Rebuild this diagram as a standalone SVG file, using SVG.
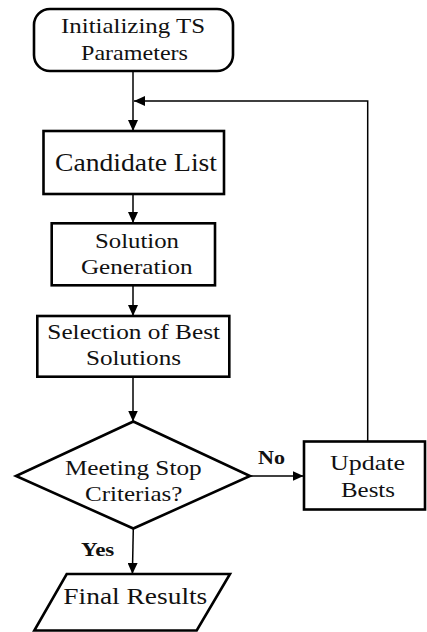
<svg xmlns="http://www.w3.org/2000/svg" width="427" height="632" viewBox="0 0 427 632">
  <style>
    .shape { fill: #ffffff; stroke: #000000; stroke-width: 2.6; stroke-linejoin: miter; }
    text { font-family: "Liberation Serif", "Times New Roman", serif; fill: #111111; text-anchor: middle; }
    .label { font-size: 22px; }
    .big { font-size: 25px; }
    .tag { font-size: 18px; font-weight: bold; }
    .edge { fill: none; stroke: #000000; stroke-width: 1.5; }
  </style>
  <defs>
    <marker id="arrow" markerUnits="userSpaceOnUse" markerWidth="12" markerHeight="10" refX="11" refY="5" orient="auto">
      <path d="M0,0 L11,5 L0,10 Z" fill="#000000"/>
    </marker>
  </defs>

  <rect width="427" height="632" fill="#ffffff"/>

  <g id="connectors">
    <line class="edge" x1="133" y1="71" x2="133" y2="131" marker-end="url(#arrow)"/>
    <polyline class="edge" points="367.7,441 367.7,101 134,101" marker-end="url(#arrow)"/>
    <line class="edge" x1="133" y1="194" x2="133" y2="223" marker-end="url(#arrow)"/>
    <line class="edge" x1="133" y1="285.5" x2="133" y2="316" marker-end="url(#arrow)"/>
    <line class="edge" x1="133" y1="377" x2="133" y2="421.5" marker-end="url(#arrow)"/>
    <line class="edge" x1="250" y1="476" x2="303.5" y2="476" marker-end="url(#arrow)"/>
    <line class="edge" x1="133.3" y1="528.5" x2="132.4" y2="574" marker-end="url(#arrow)"/>
  </g>

  <g id="init">
    <rect class="shape" x="34" y="9" width="199" height="62" rx="16" ry="16"/>
    <text class="label" x="133" y="33.3" textLength="144" lengthAdjust="spacingAndGlyphs">Initializing TS</text>
    <text class="label" x="134.5" y="60" textLength="107" lengthAdjust="spacingAndGlyphs">Parameters</text>
  </g>

  <g id="candidate">
    <rect class="shape" x="43.5" y="131" width="180.5" height="63"/>
    <text class="label big" x="136" y="170.7" textLength="162" lengthAdjust="spacingAndGlyphs">Candidate List</text>
  </g>

  <g id="generation">
    <rect class="shape" x="51.7" y="223.3" width="163.3" height="62"/>
    <text class="label" x="137" y="248.3" textLength="84" lengthAdjust="spacingAndGlyphs">Solution</text>
    <text class="label" x="136.8" y="274" textLength="111.7" lengthAdjust="spacingAndGlyphs">Generation</text>
  </g>

  <g id="selection">
    <rect class="shape" x="37.3" y="316" width="192" height="60.7"/>
    <text class="label" x="133.7" y="339.3" textLength="172.7" lengthAdjust="spacingAndGlyphs">Selection of Best</text>
    <text class="label" x="133.5" y="365" textLength="95" lengthAdjust="spacingAndGlyphs">Solutions</text>
  </g>

  <g id="decision">
    <polygon class="shape" points="133.3,421.5 250,476 133.3,528.5 16,476"/>
    <text class="label" x="133.3" y="475" textLength="136.7" lengthAdjust="spacingAndGlyphs">Meeting Stop</text>
    <text class="label" x="133.7" y="501" textLength="97.3" lengthAdjust="spacingAndGlyphs">Criterias?</text>
    <text class="tag" x="271.5" y="464.3" textLength="27" lengthAdjust="spacingAndGlyphs">No</text>
    <text class="tag" x="97.7" y="555.7" textLength="33.3" lengthAdjust="spacingAndGlyphs">Yes</text>
  </g>

  <g id="update">
    <rect class="shape" x="304" y="441.5" width="121" height="68"/>
    <text class="label" x="367.5" y="470" textLength="75" lengthAdjust="spacingAndGlyphs">Update</text>
    <text class="label" x="368" y="496.7" textLength="54" lengthAdjust="spacingAndGlyphs">Bests</text>
  </g>

  <g id="final">
    <polygon class="shape" points="66.7,574 230,574 196.7,630.5 34.3,630.5"/>
    <text class="label" style="font-size:23px" x="135.3" y="604.3" textLength="144" lengthAdjust="spacingAndGlyphs">Final Results</text>
  </g>
</svg>
